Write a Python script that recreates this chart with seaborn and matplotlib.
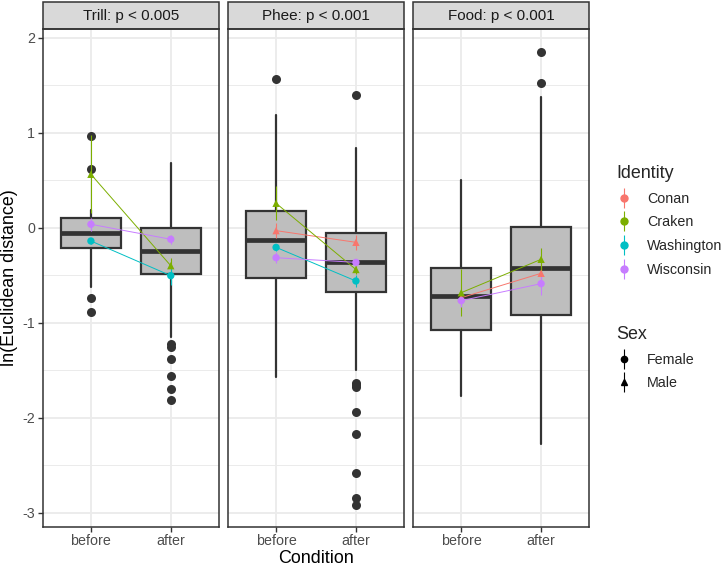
import numpy as np
import pandas as pd
import seaborn as sns
import matplotlib.pyplot as plt
from matplotlib.patches import Rectangle
from matplotlib.ticker import MultipleLocator
from matplotlib.legend_handler import HandlerErrorbar
from matplotlib.container import ErrorbarContainer

# facets and conditions
calls = ['Trill', 'Phee', 'Food']
strip_labels = ['Trill: p < 0.005', 'Phee: p < 0.001', 'Food: p < 0.001']
conditions = ['before', 'after']

# boxplot summaries, order: Trill before/after, Phee before/after, Food before/after
box_q1 = [-0.217, -0.487, -0.533, -0.677, -1.073, -0.919]
box_med = [-0.059, -0.242, -0.129, -0.365, -0.719, -0.428]
box_q3 = [0.099, -0.006, 0.176, -0.053, -0.428, 0.004]
whisk_lo = [-0.62, -1.154, -1.568, -1.498, -1.768, -2.28]
whisk_hi = [0.19, 0.684, 1.186, 0.842, 0.502, 1.379]
outliers = [
    [0.968, 0.621, -0.743, -0.884],
    [-1.227, -1.259, -1.379, -1.558, -1.695, -1.811],
    [1.562],
    [1.393, -1.63, -1.656, -1.673, -1.94, -2.175, -2.579, -2.849, -2.923],
    [],
    [1.853, 1.52],
]

# individual means (+/- error)
identities = ['Conan', 'Craken', 'Washington', 'Wisconsin']
id_sex = ['Male', 'Male', 'Female', 'Female']
id_colors = ['#F8766D', '#7CAE00', '#00BFC4', '#C77CFF']

pt_call = ['Trill'] * 6 + ['Phee'] * 8 + ['Food'] * 6
pt_id = ['Craken', 'Washington', 'Wisconsin'] * 2 + identities * 2 + ['Conan', 'Craken', 'Wisconsin'] * 2
pt_cond = (['before'] * 3 + ['after'] * 3 + ['before'] * 4 + ['after'] * 4
           + ['before'] * 3 + ['after'] * 3)
pt_mean = [0.562, -0.14, 0.036, -0.40, -0.505, -0.122,
           -0.031, 0.257, -0.207, -0.316, -0.154, -0.44, -0.561, -0.365,
           -0.737, -0.684, -0.768, -0.48, -0.333, -0.589]
pt_err = [0.41, 0.03, 0.07, 0.08, 0.10, 0.05,
          0.08, 0.18, 0.04, 0.06, 0.08, 0.05, 0.06, 0.04,
          0.05, 0.25, 0.07, 0.10, 0.12, 0.12]

pts = pd.DataFrame({'Call': pt_call, 'Identity': pt_id, 'Condition': pt_cond,
                    'mean': pt_mean, 'err': pt_err})
pts['Sex'] = pts['Identity'].map(dict(zip(identities, id_sex)))
pts['pos'] = pts['Condition'].map({c: i for i, c in enumerate(conditions)})
palette = dict(zip(identities, id_colors))
pts['color'] = pts['Identity'].map(palette)

sns.set_theme(style='white')
plt.rcParams['font.family'] = ['Liberation Sans', 'DejaVu Sans']
plt.rcParams['axes.unicode_minus'] = False

fig, axes = plt.subplots(1, 3, figsize=(7.27, 5.69), dpi=100, sharey=True)
fig.subplots_adjust(left=43 / 727, right=589 / 727, bottom=1 - 526.7 / 569,
                    top=1 - 29.3 / 569, wspace=9.5 / 176)

for k, ax in enumerate(axes):
    ax.set_facecolor('white')
    ax.yaxis.set_major_locator(MultipleLocator(1))
    ax.yaxis.set_minor_locator(MultipleLocator(0.5))
    ax.grid(which='major', color='#EBEBEB', lw=1.3, zorder=0)
    ax.grid(which='minor', axis='y', color='#EBEBEB', lw=0.7, zorder=0)
    ax.set_axisbelow(True)

    stats = []
    for j in range(2):
        i = 2 * k + j
        stats.append(dict(q1=box_q1[i], med=box_med[i], q3=box_q3[i],
                          whislo=whisk_lo[i], whishi=whisk_hi[i],
                          fliers=outliers[i]))
    ax.bxp(stats, positions=[0, 1], widths=0.75, patch_artist=True,
           showcaps=False, manage_ticks=False,
           boxprops=dict(facecolor='#BEBEBE', edgecolor='#333333', lw=1.6),
           medianprops=dict(color='#333333', lw=3.4),
           whiskerprops=dict(color='#333333', lw=1.6),
           flierprops=dict(marker='o', markerfacecolor='#333333',
                           markeredgecolor='none', markersize=6.5))

    sub = pts[pts['Call'] == calls[k]]
    sns.lineplot(data=sub, x='pos', y='mean', hue='Identity', palette=palette,
                 hue_order=identities, lw=0.7, errorbar=None, legend=False,
                 ax=ax, zorder=3)
    ax.vlines(sub['pos'], sub['mean'] - sub['err'], sub['mean'] + sub['err'],
              colors=sub['color'], lw=0.8, zorder=3)
    sns.scatterplot(data=sub, x='pos', y='mean', hue='Identity', style='Sex',
                    palette=palette, hue_order=identities,
                    markers={'Female': 'o', 'Male': '^'}, s=28,
                    edgecolor='none', legend=False, ax=ax, zorder=4)

    ax.set_xlim(-0.6, 1.6)
    ax.set_ylim(-3.147, 2.088)
    ax.set_xticks([0, 1])
    ax.set_xticklabels(conditions)
    ax.set_xlabel('')
    ax.set_ylabel('')
    for s in ax.spines.values():
        s.set_color('#333333')
        s.set_linewidth(1.1)
    ax.tick_params(axis='both', which='major', length=3.5, width=1,
                   color='#333333', labelcolor='#4D4D4D', labelsize=10.3,
                   bottom=True, left=(k == 0), pad=2)
    ax.tick_params(axis='y', which='minor', left=False)

    ax.add_patch(Rectangle((0, 1), 1, 27 / 497.4, transform=ax.transAxes,
                           facecolor='#D9D9D9', edgecolor='#333333', lw=1.1,
                           clip_on=False))
    ax.text(0.5, 1 + 13.5 / 497.4, strip_labels[k], transform=ax.transAxes,
            ha='center', va='center', fontsize=11, color='#1A1A1A')

axes[1].set_xlabel('Condition', fontsize=12.9, color='black', labelpad=1)
axes[0].set_ylabel('ln(Euclidean distance)', fontsize=12.9, color='black', labelpad=3)

# legends
id_handles = [axes[2].errorbar([np.nan], [np.nan], yerr=[0.1], fmt='o', color=c,
                               ms=5, elinewidth=0.8, capsize=0)
              for c in id_colors]
sex_handles = [axes[2].errorbar([np.nan], [np.nan], yerr=[0.1], fmt=m, color='black',
                                ms=4.5, elinewidth=0.8, capsize=0)
               for m in ['o', '^']]
hmap = {ErrorbarContainer: HandlerErrorbar(yerr_size=0.7)}

leg1 = fig.legend(id_handles, identities, title='Identity', loc='upper left',
                  bbox_to_anchor=(603 / 727, 1 - 152 / 569), frameon=False,
                  fontsize=10.3, title_fontsize=12.9, handlelength=1.2,
                  labelspacing=0.68, alignment='left', handletextpad=1.0,
                  handler_map=hmap)
leg2 = fig.legend(sex_handles, ['Female', 'Male'], title='Sex', loc='upper left',
                  bbox_to_anchor=(603 / 727, 1 - 313 / 569), frameon=False,
                  fontsize=10.3, title_fontsize=12.9, handlelength=1.2,
                  labelspacing=0.68, alignment='left', handletextpad=1.0,
                  handler_map=hmap)

fig.savefig('out.png', dpi=100)
